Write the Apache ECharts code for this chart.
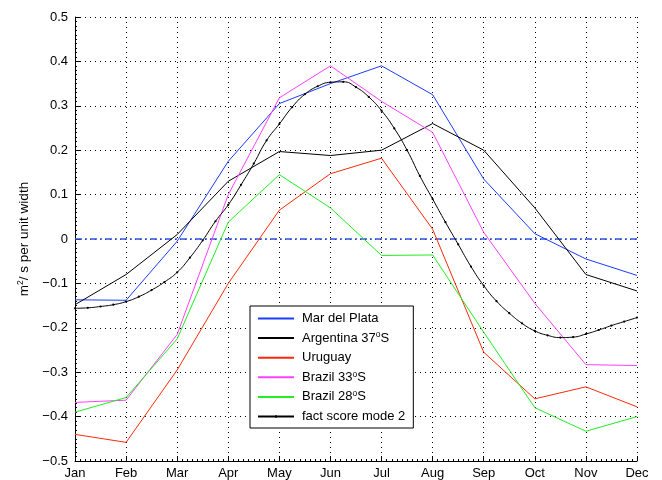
<!DOCTYPE html>
<html>
<head>
<meta charset="utf-8">
<script src="https://cdn.jsdelivr.net/npm/echarts@6/dist/echarts.min.js"></script>
<style>html,body{margin:0;padding:0;background:#fff}#c{width:662px;height:480px}</style>
</head>
<body>
<div id="c"></div>
<script>
const months = ['Jan','Feb','Mar','Apr','May','Jun','Jul','Aug','Sep','Oct','Nov','Dec'];
const yTicks = [-0.5,-0.4,-0.3,-0.2,-0.1,0,0.1,0.2,0.3,0.4,0.5];
const marDelPlata = [-0.137,-0.138,-0.005,0.175,0.305,0.35,0.39,0.325,0.135,0.012,-0.045,-0.082];
const argentina37 = [-0.148,-0.08,0.01,0.13,0.197,0.188,0.2,0.26,0.2,0.07,-0.08,-0.117];
const uruguay = [-0.44,-0.458,-0.295,-0.1,0.065,0.147,0.182,0.022,-0.255,-0.36,-0.333,-0.378];
const brazil33 = [-0.368,-0.363,-0.215,0.1,0.318,0.39,0.31,0.24,0.015,-0.145,-0.283,-0.285];
const brazil28 = [-0.39,-0.357,-0.225,0.038,0.145,0.07,-0.037,-0.036,-0.21,-0.38,-0.433,-0.4];
const zeroLine = [0,0,0,0,0,0,0,0,0,0,0,0];
// fact score mode 2, read at quarter-month steps from Jan to Dec
const factScore = [
  -0.156,-0.155,-0.152,-0.148,
  -0.141,-0.130,-0.115,-0.097,
  -0.075,-0.042,-0.003,0.040,
  0.077,0.122,0.170,0.222,
  0.259,0.297,0.326,0.344,
  0.353,0.354,0.342,0.320,
  0.289,0.249,0.200,0.142,
  0.090,0.038,-0.012,-0.062,
  -0.105,-0.140,-0.167,-0.190,
  -0.207,-0.217,-0.222,-0.221,
  -0.214,-0.205,-0.195,-0.186,
  -0.177
];
const factStep = 0.25;
const legendNames = ['Mar del Plata','Argentina 37°S','Uruguay','Brazil 33°S','Brazil 28°S','fact score mode 2'];

const monthly = arr => arr.map((v,i)=>[i,v]);
const font = 'Liberation Sans, Arial, Helvetica, sans-serif';
const rich = { sup: { fontSize: 8.5, verticalAlign: 'top', padding: [0,0,7,0], fontFamily: font, color:'#000' } };
const legendRich = { sup: { fontSize: 8.5, lineHeight: 15, verticalAlign: 'top', padding: [0,0,6,0], fontFamily: font, color:'#000' } };

const chart = echarts.init(document.getElementById('c'), null, {renderer:'canvas'});
const lineSeries = (name, data, color) => ({
  name, type:'line', data: monthly(data), symbol:'none', smooth:false,
  lineStyle:{color, width:1}, itemStyle:{color}, z:3, animation:false
});
chart.setOption({
  animation:false,
  backgroundColor:'#fff',
  grid:{left:75, right:25, top:17, bottom:19, containLabel:false},
  xAxis:{
    type:'value', min:0, max:11, interval:1,
    axisLine:{show:true, onZero:false, lineStyle:{color:'#000', width:1}},
    axisTick:{show:true, inside:true, length:5, lineStyle:{color:'#000'}},
    minorTick:{show:true, splitNumber:10, length:2, lineStyle:{color:'#000'}},
    axisLabel:{color:'#000', fontSize:13, fontFamily:font, margin:6, formatter: v => months[Math.round(v)]},
    splitLine:{show:true, lineStyle:{color:'#000', width:1, type:[1,4]}}
  },
  yAxis:{
    type:'value', min:yTicks[0], max:yTicks[yTicks.length-1], interval:0.1,
    name:'m{sup|2}/ s per unit width', nameLocation:'middle', nameGap:42, nameRotate:90,
    nameTextStyle:{color:'#000', fontSize:13.5, fontFamily:font, rich},
    axisLine:{show:true, onZero:false, lineStyle:{color:'#000', width:1}},
    axisTick:{show:true, inside:true, length:5, lineStyle:{color:'#000'}},
    minorTick:{show:true, splitNumber:10, length:2, lineStyle:{color:'#000'}},
    axisLabel:{color:'#000', fontSize:13, fontFamily:font, margin:7,
      formatter: v => { const r = Math.round(v*10)/10; return r===0 ? '0' : String(r).replace('-','\u2212'); }},
    splitLine:{show:true, lineStyle:{color:'#000', width:1, type:[1,4]}}
  },
  legend:{
    orient:'vertical', left:250, top:306,
    backgroundColor:'#fff', borderColor:'#000', borderWidth:1, borderRadius:0,
    padding:[5,8,4,7], itemGap:4.6, itemWidth:36, itemHeight:3,
    textStyle:{color:'#000', fontSize:13, lineHeight:15, fontFamily:font, rich:legendRich, padding:[0,0,0,3]},
    formatter: n => n.replace('°','{sup|o}'),
    data: legendNames.map((n,i) => i === legendNames.length-1
      ? {name:n}
      : {name:n, itemStyle:{color:'rgba(0,0,0,0)', borderColor:'rgba(0,0,0,0)', borderWidth:0}})
  },
  series:[
    {
      name:'zero', type:'line', data: monthly(zeroLine), symbol:'none',
      lineStyle:{color:'#2f54e6', width:1.3, type:[7,3,2,3]}, z:2, silent:true
    },
    lineSeries(legendNames[0], marDelPlata, '#1a3cff'),
    lineSeries(legendNames[1], argentina37, '#000000'),
    lineSeries(legendNames[2], uruguay, '#ff2a0a'),
    lineSeries(legendNames[3], brazil33, '#ff40ff'),
    lineSeries(legendNames[4], brazil28, '#22ee22'),
    {
      name:legendNames[5], type:'line', smooth:true,
      data: factScore.map((v,i)=>[i*factStep, v]),
      symbol:'circle', symbolSize:2.2, showSymbol:true,
      lineStyle:{color:'#000', width:1}, itemStyle:{color:'#000'}, z:4
    }
  ]
});
</script>
</body>
</html>
